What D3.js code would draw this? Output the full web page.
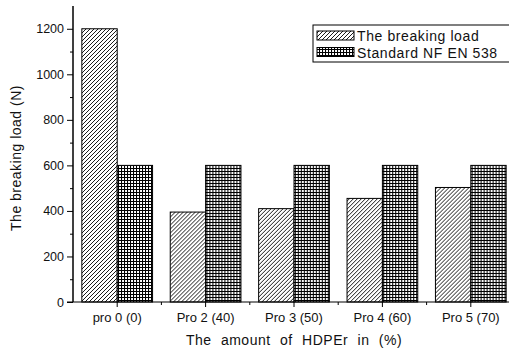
<!DOCTYPE html>
<html>
<head>
<meta charset="utf-8">
<script src="https://cdn.jsdelivr.net/npm/d3@7"></script>
<style>
  body { margin: 0; background: #fff; }
  svg { font-family: "Liberation Sans", Arial, sans-serif; }
</style>
</head>
<body>
<div id="graph"></div>
<script>
// data
var categories = ["pro 0 (0)", "Pro 2 (40)", "Pro 3 (50)", "Pro 4 (60)", "Pro 5 (70)"];
var breakingLoad = [1200, 395, 410, 455, 503];
var standardNF = [600, 600, 600, 600, 600];
var seriesNames = ["The breaking load", "Standard NF EN 538"];
var yTicks = [0, 200, 400, 600, 800, 1000, 1200];

var W = 509, H = 352;
var margin = {left: 73, top: 6, right: -6, bottom: 50};
var w = W - margin.left - margin.right, h = H - margin.top - margin.bottom;

var svg = d3.select("#graph").append("svg")
    .attr("width", W).attr("height", H);

// fill patterns
var defs = svg.append("defs");
var diag = defs.append("pattern").attr("id", "diag")
    .attr("patternUnits", "userSpaceOnUse")
    .attr("width", 4).attr("height", 4);
diag.append("rect").attr("width", 4).attr("height", 4).attr("fill", "#fff");
diag.append("path").attr("d", "M-1,1 l2,-2 M0,4 l4,-4 M3,5 l2,-2")
    .attr("stroke", "#000").attr("stroke-width", 0.9);

var grid = defs.append("pattern").attr("id", "grid")
    .attr("patternUnits", "userSpaceOnUse")
    .attr("width", 3).attr("height", 3);
grid.append("rect").attr("width", 3).attr("height", 3).attr("fill", "#fff");
grid.append("path").attr("d", "M0,0.5 H3 M0.5,0 V3")
    .attr("stroke", "#000").attr("stroke-width", 1.1);

var g = svg.append("g")
    .attr("transform", "translate(" + margin.left + "," + margin.top + ")");

var x = d3.scaleBand().domain(categories).range([0, w]).paddingInner(0).paddingOuter(0);
var inner = d3.scaleBand().domain([0, 1]).range([x.bandwidth() * 0.1, x.bandwidth() * 0.9]);
var y = d3.scaleLinear().domain([0, 1300]).range([h, 0]);

// bars
var data = categories.map(function(c, i) {
    return {cat: c, vals: [breakingLoad[i], standardNF[i]]};
});
var fills = ["url(#diag)", "url(#grid)"];
var groups = g.selectAll(".grp").data(data).enter().append("g")
    .attr("transform", function(d) { return "translate(" + x(d.cat) + ",0)"; });
groups.selectAll("rect").data(function(d) { return d.vals; }).enter().append("rect")
    .attr("x", function(d, i) { return inner(i); })
    .attr("y", function(d) { return y(d); })
    .attr("width", inner.bandwidth())
    .attr("height", function(d) { return h - y(d); })
    .attr("fill", function(d, i) { return fills[i]; })
    .attr("stroke", "#000").attr("stroke-width", 1);

// y axis
var yAxis = g.append("g").call(d3.axisLeft(y).tickValues(yTicks).tickFormat(d3.format("d")).tickSize(6).tickPadding(3));
var yMinor = g.append("g").call(d3.axisLeft(y).tickValues(d3.range(100, 1300, 200)).tickSize(3).tickFormat(""));
[yAxis, yMinor].forEach(function(a) {
    a.select(".domain").attr("d", "M0," + y(1300) + "V" + h);
});
yAxis.selectAll("text").attr("font-size", 12.5).attr("fill", "#111");

// x axis
var xAxis = g.append("g").attr("transform", "translate(0," + h + ")")
    .call(d3.axisBottom(x).tickSize(5).tickPadding(6));
xAxis.select(".domain").attr("d", "M-6,0H" + w);
xAxis.selectAll("text").attr("font-size", 13).attr("fill", "#111");
var bounds = categories.slice(1).map(function(c) { return x(c); });
xAxis.selectAll(".bnd").data(bounds).enter().append("line")
    .attr("x1", function(d) { return d; }).attr("x2", function(d) { return d; })
    .attr("y1", 0).attr("y2", 3).attr("stroke", "#000");

// axis titles
svg.append("text")
    .attr("transform", "translate(21," + (margin.top + h / 2 + 4) + ") rotate(-90)")
    .attr("text-anchor", "middle").attr("font-size", 14).attr("fill", "#111")
    .attr("letter-spacing", 0.5)
    .text("The breaking load (N)");
svg.append("text")
    .attr("x", margin.left + 221).attr("y", 345)
    .attr("text-anchor", "middle").attr("font-size", 14).attr("fill", "#111")
    .attr("letter-spacing", 0.5).attr("word-spacing", 5)
    .text("The amount of HDPEr in (%)");

// legend
var lg = svg.append("g").attr("transform", "translate(313,25)");
lg.append("rect").attr("width", 200).attr("height", 37)
    .attr("fill", "#fff").attr("stroke", "#000").attr("stroke-width", 1);
seriesNames.forEach(function(s, i) {
    var yy = 6 + i * 16.5;
    lg.append("rect").attr("x", 4).attr("y", yy).attr("width", 37).attr("height", 9)
        .attr("fill", fills[i]).attr("stroke", "#000").attr("stroke-width", 1);
    lg.append("text").attr("x", 44).attr("y", yy + 10)
        .attr("font-size", 14).attr("fill", "#111").attr("letter-spacing", 0.6)
        .text(s);
});
</script>
</body>
</html>
